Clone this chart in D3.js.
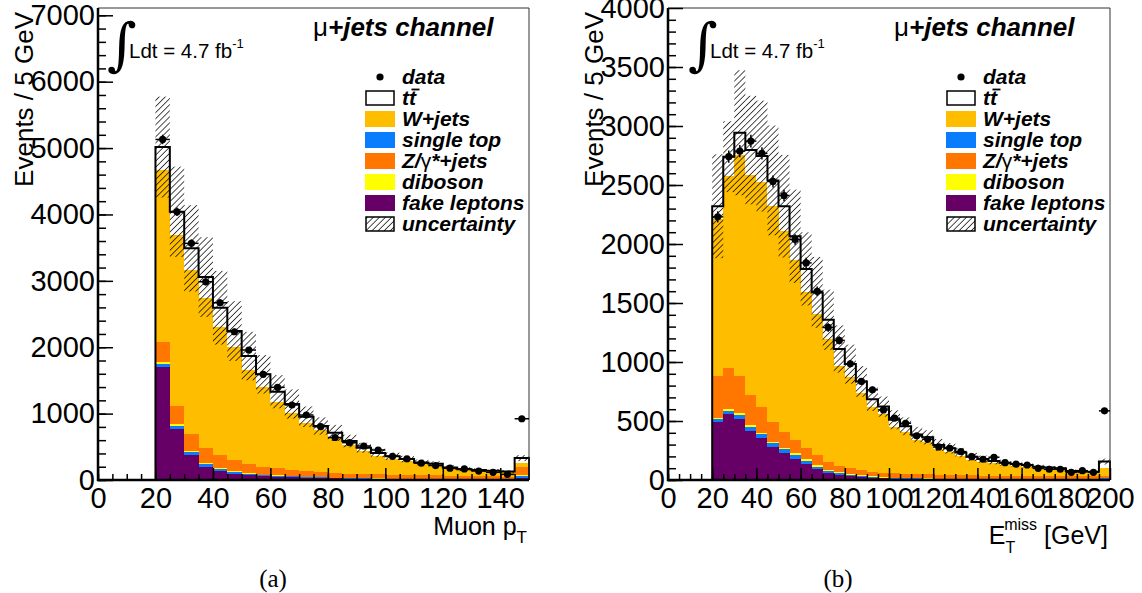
<!DOCTYPE html>
<html>
<head>
<meta charset="utf-8">
<script src="https://cdn.jsdelivr.net/npm/d3@7"></script>
<style>
body { margin: 0; background: #fff; }
svg { display: block; }
</style>
</head>
<body>
<svg id="chart" width="1142" height="593"></svg>
<script>
// ---- muon pT panel (a), 5 GeV bins, last bin is overflow
var ptBins = [20, 25, 30, 35, 40, 45, 50, 55, 60, 65, 70, 75, 80, 85, 90, 95, 100, 105, 110, 115, 120, 125, 130, 135, 140, 145];
var ptData = [5130, 4040, 3565, 2986, 2670, 2233, 1958, 1592, 1396, 1130, 979, 803, 640, 563, 512, 452, 357, 320, 254, 218, 178, 167, 135, 116, 85, 923];
var ptTtbar = [345, 350, 327, 321, 286, 236, 210, 187, 151, 141, 99, 60, 67, 58, 50, 44, 38, 33, 28, 24, 21, 18, 16, 14, 12, 70];
var ptWjets = [2590, 2576, 2470, 2250, 1933, 1707, 1421, 1205, 1003, 854, 719, 633, 533, 434, 346, 279, 239, 207, 165, 152, 103, 85, 78, 74, 65, 69];
var ptZjets = [305, 271, 252, 226, 194, 166, 133, 118, 107, 92, 85, 78, 73, 63, 62, 61, 60, 59, 56, 54, 51, 49, 46, 44, 42, 116];
var ptSingleTop = [50, 50, 50, 45, 35, 30, 25, 20, 18, 15, 13, 11, 10, 9, 8, 7, 6, 5, 5, 4, 4, 3, 3, 3, 3, 30];
var ptDiboson = [25, 30, 15, 15, 12, 10, 8, 7, 6, 5, 5, 4, 4, 3, 3, 3, 2, 2, 2, 2, 2, 2, 1, 1, 1, 10];
var ptFake = [1700, 763, 376, 200, 135, 95, 70, 55, 45, 38, 32, 27, 23, 20, 17, 14, 12, 10, 9, 8, 7, 6, 5, 5, 4, 35];
var ptUnc = [760, 680, 650, 600, 555, 450, 365, 290, 250, 220, 155, 130, 120, 95, 75, 65, 55, 48, 42, 38, 33, 30, 27, 24, 22, 45];

// ---- missing ET panel (b)
var metBins = [20, 25, 30, 35, 40, 45, 50, 55, 60, 65, 70, 75, 80, 85, 90, 95, 100, 105, 110, 115, 120, 125, 130, 135, 140, 145, 150, 155, 160, 165, 170, 175, 180, 185, 190, 195];
var metData = [2230, 2740, 2787, 2872, 2768, 2530, 2411, 2038, 1840, 1599, 1293, 1183, 985, 835, 764, 594, 524, 481, 374, 345, 280, 269, 240, 198, 176, 193, 147, 134, 127, 99, 91, 91, 65, 79, 65, 586];
var metTtbar = [110, 165, 185, 210, 220, 220, 212, 205, 195, 185, 165, 145, 110, 95, 70, 65, 57, 50, 45, 40, 35, 32, 28, 25, 22, 20, 18, 16, 15, 13, 12, 11, 10, 9, 8, 57];
var metWjets = [1327, 1627, 1875, 1864, 1903, 1824, 1698, 1521, 1320, 1193, 1038, 846, 773, 655, 545, 495, 396, 353, 290, 274, 216, 193, 162, 131, 117, 104, 93, 85, 78, 67, 61, 57, 36, 31, 32, 61];
var metZjets = [359, 348, 312, 255, 220, 170, 136, 113, 98, 85, 70, 54, 48, 45, 40, 37, 37, 35, 34, 34, 34, 33, 32, 31, 29, 29, 28, 27, 27, 28, 27, 26, 25, 25, 25, 20];
var metSingleTop = [20, 28, 34, 34, 29, 28, 33, 34, 28, 22, 14, 15, 11, 11, 8, 7, 6, 5, 5, 4, 4, 4, 3, 3, 3, 3, 3, 3, 2, 2, 2, 2, 2, 2, 2, 5];
var metDiboson = [9, 12, 19, 14, 14, 14, 14, 15, 15, 14, 9, 8, 6, 6, 4, 4, 3, 3, 3, 3, 2, 2, 2, 2, 2, 2, 2, 2, 2, 1, 1, 1, 1, 1, 1, 3];
var metFake = [495, 560, 518, 419, 359, 283, 227, 178, 133, 91, 62, 42, 34, 23, 18, 14, 11, 9, 8, 7, 6, 5, 5, 4, 4, 3, 3, 3, 3, 2, 2, 2, 2, 2, 2, 10];
var metUnc = [440, 300, 530, 460, 470, 465, 435, 395, 310, 300, 255, 200, 165, 130, 100, 85, 80, 75, 65, 60, 50, 45, 40, 35, 30, 28, 25, 22, 20, 18, 16, 14, 13, 12, 12, 25];

var legendLabels = ["data", "tt", "W+jets", "single top", "Z/γ*+jets", "diboson", "fake leptons", "uncertainty"];

// stack order bottom -> top
var keys = ["fake", "st", "dib", "z", "w", "tt"];
var colors = {fake: "#660066", st: "#0a7dff", dib: "#ffff00", z: "#ff7700", w: "#ffbd00", tt: "#ffffff"};
var binW = 5;
var font = "'Liberation Sans', Arial, Helvetica, sans-serif";

var svg = d3.select("#chart");

var defs = svg.append("defs");
defs.append("pattern")
  .attr("id", "hatch")
  .attr("patternUnits", "userSpaceOnUse")
  .attr("width", 4.3)
  .attr("height", 4.3)
  .attr("patternTransform", "rotate(45)")
  .append("line")
  .attr("x1", 0).attr("y1", 0)
  .attr("x2", 0).attr("y2", 4.3)
  .attr("stroke", "#000")
  .attr("stroke-width", 1.4);

function drawPanel(p) {
  var x = d3.scaleLinear().domain([0, p.xMax]).range([p.left, p.right]);
  var y = d3.scaleLinear().domain([0, p.yMax]).range([480, 8]);
  var g = svg.append("g");

  var rows = p.bins.map(function(b, i) {
    return {lo: b, fake: p.fake[i], st: p.st[i], dib: p.dib[i], z: p.z[i], w: p.w[i], tt: p.tt[i]};
  });
  var stacked = d3.stack().keys(keys)(rows);
  var totals = stacked[stacked.length - 1].map(function(d) { return d[1]; });

  // filled stack
  stacked.forEach(function(layer) {
    g.append("g").selectAll("rect")
      .data(layer)
      .enter()
      .append("rect")
      .attr("x", function(d) { return x(d.data.lo); })
      .attr("width", function(d) { return x(d.data.lo + binW) - x(d.data.lo); })
      .attr("y", function(d) { return y(d[1]); })
      .attr("height", function(d) { return Math.max(0, y(d[0]) - y(d[1])); })
      .attr("fill", colors[layer.key])
      .attr("shape-rendering", "crispEdges");
  });

  // uncertainty band
  g.append("g").selectAll("rect")
    .data(p.bins)
    .enter()
    .append("rect")
    .attr("x", function(d) { return x(d); })
    .attr("width", function(d) { return x(d + binW) - x(d); })
    .attr("y", function(d, i) { return y(totals[i] + p.unc[i]); })
    .attr("height", function(d, i) { return y(totals[i] - p.unc[i]) - y(totals[i] + p.unc[i]); })
    .attr("fill", "url(#hatch)");

  // total outline
  var pts = [[p.bins[0], 0]];
  p.bins.forEach(function(b, i) {
    pts.push([b, totals[i]]);
    pts.push([b + binW, totals[i]]);
  });
  pts.push([p.bins[p.bins.length - 1] + binW, 0]);
  g.append("path")
    .attr("d", d3.line().x(function(d) { return x(d[0]); }).y(function(d) { return y(d[1]); })(pts))
    .attr("fill", "none")
    .attr("stroke", "#000")
    .attr("stroke-width", 2);

  // frame
  g.append("path")
    .attr("d", "M" + p.left + ",8H" + p.right + "V480")
    .attr("fill", "none").attr("stroke", "#333").attr("stroke-width", 1);
  g.append("path")
    .attr("d", "M" + p.left + ",8V480H" + p.right)
    .attr("fill", "none").attr("stroke", "#000").attr("stroke-width", 2.5);

  // axes
  var yMajor = d3.axisLeft(y).tickValues(d3.range(0, p.yMax + 1, p.yStep))
    .tickSizeInner(-15).tickSizeOuter(0).tickPadding(3).tickFormat(d3.format("d"));
  var yMinor = d3.axisLeft(y).tickValues(d3.range(0, p.yMax, p.yStep / 5))
    .tickSizeInner(-8).tickSizeOuter(0).tickFormat("");
  var xMajor = d3.axisBottom(x).tickValues(d3.range(0, p.xMax + 1, 20))
    .tickSizeInner(-12).tickSizeOuter(0).tickPadding(7).tickFormat(d3.format("d"));
  var xMinor = d3.axisBottom(x).tickValues(d3.range(0, p.xMax, 5))
    .tickSizeInner(-6).tickSizeOuter(0).tickFormat("");

  [[yMinor, "translate(" + p.left + ",0)"], [yMajor, "translate(" + p.left + ",0)"],
   [xMinor, "translate(0,480)"], [xMajor, "translate(0,480)"]].forEach(function(a) {
    var ax = g.append("g").attr("transform", a[1]).call(a[0]);
    ax.select(".domain").remove();
    ax.selectAll("line").attr("stroke", "#000").attr("stroke-width", 1.5);
    ax.selectAll("text").attr("font-family", font).attr("font-size", 29).attr("fill", "#000");
  });

  // data points
  var dg = g.append("g");
  p.bins.forEach(function(b, i) {
    var v = p.data[i], e = Math.sqrt(v);
    dg.append("line").attr("x1", x(b)).attr("x2", x(b + binW)).attr("y1", y(v)).attr("y2", y(v))
      .attr("stroke", "#000").attr("stroke-width", 1.5);
    dg.append("line").attr("x1", x(b + binW / 2)).attr("x2", x(b + binW / 2)).attr("y1", y(v - e)).attr("y2", y(v + e))
      .attr("stroke", "#000").attr("stroke-width", 1.5);
    dg.append("circle").attr("cx", x(b + binW / 2)).attr("cy", y(v)).attr("r", 3.6).attr("fill", "#000");
  });

  // y title
  g.append("text")
    .attr("transform", "translate(" + p.yTitleX + ",12) rotate(-90)")
    .attr("text-anchor", "end")
    .attr("font-family", font).attr("font-size", 26)
    .text("Events / 5 GeV");

  // x title
  var xt = g.append("text")
    .attr("x", p.right - 2).attr("y", p.xTitleY)
    .attr("text-anchor", "end")
    .attr("font-family", font).attr("font-size", 25);
  p.xTitle(xt);

  // luminosity
  g.append("text")
    .attr("x", p.left + p.intOff).attr("y", 64)
    .attr("font-family", "'DejaVu Serif', serif").attr("font-size", 57)
    .text("∫");
  var lt = g.append("text")
    .attr("x", p.left + p.intOff + 22).attr("y", 58)
    .attr("font-family", font).attr("font-size", 20.5);
  lt.append("tspan").text("Ldt = 4.7 fb");
  lt.append("tspan").attr("font-size", 13).attr("dy", -10).text("-1");

  // channel label
  var ch = g.append("text")
    .attr("x", p.right - 216).attr("y", 36)
    .attr("font-family", font).attr("font-size", 26);
  ch.append("tspan").text("μ");
  ch.append("tspan").attr("font-weight", "bold").attr("font-style", "italic").text("+jets channel");

  // legend
  var lg = g.append("g").attr("transform", "translate(" + (p.right - 164) + ",0)");
  var rowY = d3.scaleLinear().domain([0, 7]).range([77, 224]);
  var legKeys = ["data", "tt", "w", "st", "z", "dib", "fake", "unc"];
  legKeys.forEach(function(k, i) {
    var cy = rowY(i);
    if (k === "data") {
      lg.append("circle").attr("cx", 15).attr("cy", cy).attr("r", 3.6).attr("fill", "#000");
    } else if (k === "unc") {
      lg.append("rect").attr("x", 1).attr("y", cy - 7).attr("width", 28).attr("height", 14)
        .attr("fill", "url(#hatch)").attr("stroke", "#000").attr("stroke-width", 1.5);
    } else if (k === "tt") {
      lg.append("rect").attr("x", 1).attr("y", cy - 7).attr("width", 28).attr("height", 14)
        .attr("fill", "#fff").attr("stroke", "#000").attr("stroke-width", 1.5);
    } else {
      lg.append("rect").attr("x", 0).attr("y", cy - 8).attr("width", 30).attr("height", 16)
        .attr("fill", colors[k]);
    }
    var t = lg.append("text")
      .attr("x", 37).attr("y", cy + 7)
      .attr("font-family", font).attr("font-size", 21)
      .attr("font-weight", "bold").attr("font-style", "italic");
    if (k === "tt") {
      t.text("tt");
      var node = t.node();
      var s = node.getStartPositionOfChar(1), e = node.getEndPositionOfChar(1);
      lg.append("line")
        .attr("x1", s.x + 2.5).attr("x2", e.x + 3.5)
        .attr("y1", cy - 8.5).attr("y2", cy - 8.5)
        .attr("stroke", "#000").attr("stroke-width", 1.8);
    } else if (k === "z") {
      t.append("tspan").text("Z/");
      t.append("tspan").attr("font-weight", "normal").attr("font-style", "normal").text("γ");
      t.append("tspan").text("*+jets");
    } else {
      t.text(legendLabels[i]);
    }
  });

  // caption
  svg.append("text")
    .attr("x", p.capX).attr("y", 587)
    .attr("text-anchor", "middle")
    .attr("font-family", "'Liberation Serif', 'DejaVu Serif', serif").attr("font-size", 25)
    .text(p.caption);
}

drawPanel({
  left: 98, right: 529, xMax: 150, yMax: 7110, yStep: 1000,
  bins: ptBins, data: ptData, tt: ptTtbar, w: ptWjets, z: ptZjets, st: ptSingleTop,
  dib: ptDiboson, fake: ptFake, unc: ptUnc,
  yTitleX: 33, intOff: 9, xTitleY: 535, capX: 273, caption: "(a)",
  xTitle: function(t) {
    t.append("tspan").text("Muon p");
    t.append("tspan").attr("font-size", 17).attr("dy", 8).text("T");
  }
});

drawPanel({
  left: 668, right: 1110, xMax: 200, yMax: 4000, yStep: 500,
  bins: metBins, data: metData, tt: metTtbar, w: metWjets, z: metZjets, st: metSingleTop,
  dib: metDiboson, fake: metFake, unc: metUnc,
  yTitleX: 603, intOff: 20, xTitleY: 544, capX: 838, caption: "(b)",
  xTitle: function(t) {
    t.append("tspan").text("E");
    t.append("tspan").attr("font-size", 16).attr("dx", 0).attr("dy", 9).text("T");
    t.append("tspan").attr("font-size", 16).attr("dx", -11).attr("dy", -23).text("miss");
    t.append("tspan").attr("dy", 14).text(" [GeV]");
  }
});
</script>
</body>
</html>
